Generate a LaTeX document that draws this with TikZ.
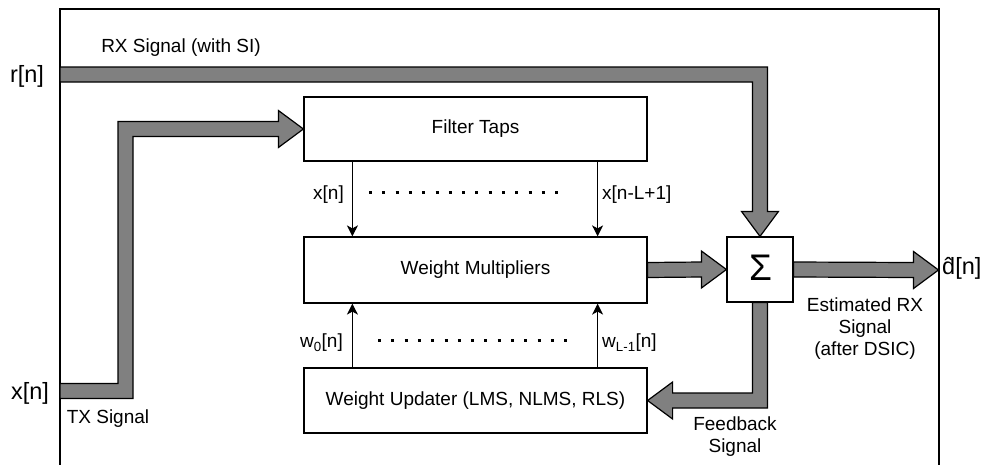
\documentclass[tikz,border=0pt]{standalone}
\usepackage{fontspec}
\setmainfont{Liberation Sans}
\usetikzlibrary{calc,arrows.meta}
\definecolor{fatgray}{HTML}{808080}
\def\fatS{7.5}  % half width of a fat arrow shaft
\def\fatH{18.5} % half width of a fat arrow head
\def\fatL{25}   % length of a fat arrow head
\begin{document}
\begin{tikzpicture}[x=1pt,y=-1pt,
  block/.style={draw,line width=1.2pt,fill=white,inner sep=0pt,minimum width=343pt,
    font=\fontsize{19}{22}\selectfont},
  lbl/.style={inner sep=0pt,font=\fontsize{19}{22}\selectfont,align=center},
  port/.style={inner sep=0pt,font=\fontsize{23.5}{26}\selectfont},
  sig/.style={line width=1.2pt,-{Stealth[length=11pt,width=11pt,inset=3pt]}},
  fat/.style={draw=black,line width=1.2pt,fill=fatgray,line join=miter},
  dots/.style={line width=3pt,dash pattern=on 3pt off 10.3pt}]
\useasboundingbox (0,0) rectangle (994,464);

% outer frame of the canceller (open at the bottom edge of the page)
\draw[line width=1.2pt] (60,470) -- (60,9) -- (939,9) -- (939,470);

% blocks
\node[block,minimum height=64pt] (taps) at (475.5,129) {Filter Taps};
\node[block,minimum height=66pt] (wm) at (475.5,270) {Weight Multipliers};
\node[block,minimum height=65pt] (wu) at (475.5,400.5) {Weight Updater (LMS, NLMS, RLS)};
\node[draw,line width=1.2pt,fill=white,inner sep=0pt,minimum width=66pt,minimum height=65pt]
  (sum) at (760,269.5) {};
\node[inner sep=0pt,font=\fontsize{37}{38}\selectfont] (sigma) at (760.5,267.5) {Σ};

% ports on the frame and bend points
\coordinate (rxin) at (60,74.5);
\coordinate (txin) at (60,391);
\coordinate (txup) at (125.5,391);
\coordinate (dout) at (938.5,270);

% tap signals and weights
\draw[sig] ($(taps.south west)+(49,0)$) -- ($(wm.north west)+(49,0)$);
\draw[sig] ($(taps.south east)+(-50,0)$) -- ($(wm.north east)+(-50,0)$);
\draw[sig] ($(wu.north west)+(49,0)$) -- ($(wm.south west)+(49,0)$);
\draw[sig] ($(wu.north east)+(-50,0)$) -- ($(wm.south east)+(-50,0)$);
\draw[dots] (369,192) -- (560,192);
\draw[dots] (378,340) -- (568,340);

\node[lbl,anchor=east] (lx0) at (344,195) {x[n]};
\node[lbl,anchor=west] (lx1) at (602,195) {x[n-L+1]};
\node[lbl,anchor=east] (lw0) at (343,343) {w\textsubscript{0}[n]};
\node[lbl,anchor=west] (lw1) at (602,343) {w\textsubscript{L-1}[n]};

% RX path into the adder
\draw[fat] ($(rxin)+(0,-\fatS)$) -- ($(sum.north |- rxin)+(\fatS,-\fatS)$)
  -- ($(sum.north)+(\fatS,-\fatL)$) -- ($(sum.north)+(\fatH,-\fatL)$) -- (sum.north)
  -- ($(sum.north)+(-\fatH,-\fatL)$) -- ($(sum.north)+(-\fatS,-\fatL)$)
  -- ($(sum.north |- rxin)+(-\fatS,\fatS)$) -- ($(rxin)+(0,\fatS)$) -- cycle;

% TX path into the filter taps
\draw[fat] ($(txin)+(0,-\fatS)$) -- ($(txup)+(-\fatS,-\fatS)$)
  -- ($(txup |- taps.west)+(-\fatS,-\fatS)$) -- ($(taps.west)+(-\fatL,-\fatS)$)
  -- ($(taps.west)+(-\fatL,-\fatH)$) -- (taps.west) -- ($(taps.west)+(-\fatL,\fatH)$)
  -- ($(taps.west)+(-\fatL,\fatS)$) -- ($(txup |- taps.west)+(\fatS,\fatS)$)
  -- ($(txup)+(\fatS,\fatS)$) -- ($(txin)+(0,\fatS)$) -- cycle;

% filter output into the adder
\draw[fat] ($(wm.east)+(0,-\fatS)$) -- ($(sum.west)+(-\fatL,-\fatS)$)
  -- ($(sum.west)+(-\fatL,-\fatH)$) -- (sum.west) -- ($(sum.west)+(-\fatL,\fatH)$)
  -- ($(sum.west)+(-\fatL,\fatS)$) -- ($(wm.east)+(0,\fatS)$) -- cycle;

% adder output
\draw[fat] ($(sum.east)+(0,-\fatS)$) -- ($(dout)+(-\fatL,-\fatS)$)
  -- ($(dout)+(-\fatL,-\fatH)$) -- (dout) -- ($(dout)+(-\fatL,\fatH)$)
  -- ($(dout)+(-\fatL,\fatS)$) -- ($(sum.east)+(0,\fatS)$) -- cycle;

% feedback to the weight updater
\draw[fat] ($(sum.south)+(-\fatS,0)$) -- ($(sum.south)+(\fatS,0)$)
  -- ($(sum.south |- wu.east)+(\fatS,\fatS)$) -- ($(wu.east)+(\fatL,\fatS)$)
  -- ($(wu.east)+(\fatL,\fatH)$) -- (wu.east) -- ($(wu.east)+(\fatL,-\fatH)$)
  -- ($(wu.east)+(\fatL,-\fatS)$) -- ($(sum.south |- wu.east)+(-\fatS,-\fatS)$) -- cycle;

% port names
\node[port] (rn) at (27,76) {r[n]};
\node[port] (xn) at (30,393) {x[n]};
\node[port,anchor=west] (dn) at (942,268) {\^{d}[n]};

% signal names
\node[lbl] (rxl) at (181,48) {RX Signal (with SI)};
\node[lbl] (txl) at (108,419) {TX Signal};
\node[lbl] (estl) at (865,329) {Estimated RX\\Signal\\(after DSIC)};
\node[lbl] (fbl) at (735,437) {Feedback\\Signal};
\end{tikzpicture}
\end{document}
